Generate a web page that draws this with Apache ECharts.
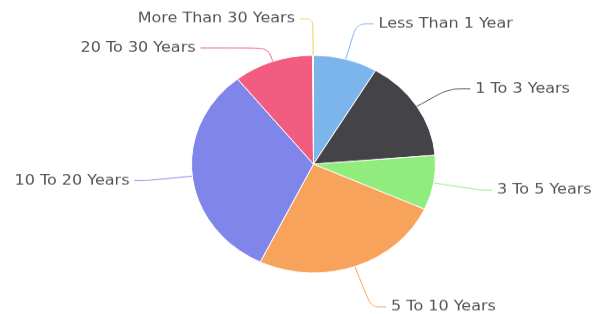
<!DOCTYPE html>
<html>
<head>
<meta charset="utf-8">
<script src="https://cdn.jsdelivr.net/npm/echarts@6/dist/echarts.min.js"></script>
<style>
    html, body { margin: 0; padding: 0; background: #fff; overflow: hidden; }
    /* the reference pie is a flattened ellipse, so draw taller and squash */
    #main { width: 597px; height: 370px; transform: scale(1, 0.892); transform-origin: 0 0; }
</style>
</head>
<body>
<div id="main"></div>
<script>
// categories and shares (percent)
const categories = ['Less Than 1 Year', '1 To 3 Years', '3 To 5 Years', '5 To 10 Years',
    '10 To 20 Years', '20 To 30 Years', 'More Than 30 Years']
const shares = [8.5, 15.2, 8.1, 25.4, 32.1, 10.6, 0.1]
const colors = ['#7cb5ec', '#434348', '#90ed7d', '#f7a35c', '#8085e9', '#f15c80', '#e4d354']

// connector lengths per slice (radial part, horizontal part)
const lineLen = [41, 37, 48, 48, 46, 16, 41]
const lineLen2 = [17, 22, 11, 15, 12, 67, 13]

const chartDom = document.getElementById('main')
const myChart = echarts.init(chartDom)

const option = {
    animation: false,
    color: colors,
    series: [
        {
            type: 'pie',
            center: [313.5, 184],
            radius: 122,
            startAngle: 90,
            clockwise: true,
            avoidLabelOverlap: true,
            itemStyle: {
                borderColor: '#fff',
                borderWidth: 1
            },
            label: {
                color: '#555',
                fontFamily: 'DejaVu Sans',
                fontSize: 16,
                overflow: 'none',
                distanceToLabelLine: 5
            },
            labelLine: {
                smooth: 0.3,
                lineStyle: { width: 1 }
            },
            emphasis: { disabled: true },
            data: categories.map((name, i) => ({
                name: name,
                value: shares[i],
                labelLine: { length: lineLen[i], length2: lineLen2[i] }
            }))
        }
    ]
}

myChart.setOption(option)
</script>
</body>
</html>
